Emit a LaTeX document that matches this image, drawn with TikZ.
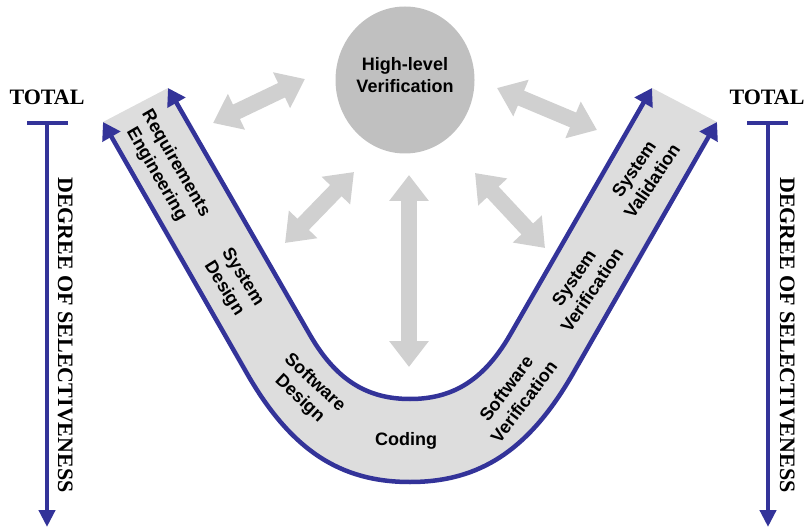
\documentclass[tikz,border=0pt]{standalone}
\usepackage{fontspec}
\setmainfont{Liberation Serif}
\setsansfont{Liberation Sans}
\usepackage{tikz}
\usetikzlibrary{arrows.meta,shapes.geometric,calc}
\definecolor{vblue}{HTML}{333399}
\definecolor{bandgray}{HTML}{DDDDDD}
\definecolor{linkgray}{HTML}{D0D0D0}
\definecolor{hubgray}{HTML}{C0C0C0}
\tikzset{
  stage/.style={font=\sffamily\bfseries\fontsize{18}{22}\selectfont, align=center, inner sep=0pt},
  hubnode/.style={ellipse, fill=hubgray, minimum width=139pt, minimum height=147pt, inner sep=0pt},
  vline/.style={draw=vblue, line width=4.5pt,
                {Triangle[length=17pt,width=20pt]}-{Triangle[length=17pt,width=20pt]}},
  xlink/.style={draw=linkgray, line width=16pt,
                {Triangle[length=26pt,width=38pt]}-{Triangle[length=26pt,width=38pt]}},
  scalebar/.style={draw=vblue, line width=4.5pt},
  scalelbl/.style={font=\bfseries\fontsize{22}{24}\selectfont, inner sep=0pt},
}
\begin{document}
\begin{tikzpicture}[x=1pt, y=-1pt]
  \useasboundingbox (0,0) rectangle (808,529);
  % corners of the V band
  \coordinate (oL) at (103,122);
  \coordinate (oLb) at (245,370);
  \coordinate (oB) at (410,482);
  \coordinate (oRb) at (575,370);
  \coordinate (oR) at (717,122);
  \coordinate (iL) at (168,88);
  \coordinate (iLb) at (310,335);
  \coordinate (iB) at (410,399);
  \coordinate (iRb) at (510,335);
  \coordinate (iR) at (652,88);
  \fill[bandgray] (oL) -- (oLb) .. controls (290,450) and (340,482) .. (oB)
    .. controls (480,482) and (530,450) .. (oRb) -- (oR) -- (iR) -- (iRb)
    .. controls (485,378) and (455,399) .. (iB)
    .. controls (365,399) and (335,378) .. (iLb) -- (iL) -- cycle;
  \draw[vline] (oL) -- (oLb) .. controls (290,450) and (340,482) .. (oB)
    .. controls (480,482) and (530,450) .. (oRb) -- (oR);
  \draw[vline] (iL) -- (iLb) .. controls (335,378) and (365,399) .. (iB)
    .. controls (455,399) and (485,378) .. (iRb) -- (iR);

  % high-level verification
  \node[hubnode] (hlv) at (405,80) {};
  \node[stage] (hlvtxt) at ([yshift=5pt]hlv.center) {High-level\\Verification};

  % links to the band
  \coordinate (l1a) at (213,123); \coordinate (l1b) at (305,79);
  \coordinate (l2a) at (497,88);  \coordinate (l2b) at (597,130);
  \coordinate (l3a) at (285,243); \coordinate (l3b) at (354,172);
  \coordinate (l4a) at (409,175); \coordinate (l4b) at (409,367);
  \coordinate (l5a) at (475,173); \coordinate (l5b) at (545,248);
  \draw[xlink] (l1a) -- (l1b);
  \draw[xlink] (l2a) -- (l2b);
  \draw[xlink] (l3a) -- (l3b);
  \draw[xlink] (l4a) -- (l4b);
  \draw[xlink] (l5a) -- (l5b);

  % stages
  \node[stage, rotate=-60] (req) at (166,169) {Requirements\\Engineering};
  \node[stage, rotate=-58] (sysd) at (233,283) {System\\Design};
  \node[stage, rotate=-43] (swd) at (307,391) {Software\\Design};
  \node[stage] (cod) at (406,441) {Coding};
  \node[stage, rotate=53] (swv) at (515,395) {Software\\Verification};
  \node[stage, rotate=56] (sysv) at (583,284) {System\\Verification};
  \node[stage, rotate=56] (sysval) at (643,175) {System\\Validation};

  % selectiveness scales
  \coordinate (lt) at (47,123);  \coordinate (lb) at (47,527);
  \coordinate (rt) at (768,123); \coordinate (rb) at (768,527);
  \draw[scalebar] ([xshift=-20pt]lt) -- ([xshift=21pt]lt);
  \draw[scalebar] ([xshift=-21pt]rt) -- ([xshift=20pt]rt);
  \draw[scalebar, -{Triangle[length=17pt,width=16pt]}] (lt) -- (lb);
  \draw[scalebar, -{Triangle[length=17pt,width=16pt]}] (rt) -- (rb);
  \node[scalelbl, anchor=base] (ltot) at (47,105) {TOTAL};
  \node[scalelbl, anchor=base] (rtot) at (767,105) {TOTAL};
  \node[scalelbl, anchor=base, rotate=-90] (ldeg) at (58,335) {DEGREE OF SELECTIVENESS};
  \node[scalelbl, anchor=base, rotate=-90] (rdeg) at (780,335) {DEGREE OF SELECTIVENESS};
\end{tikzpicture}
\end{document}
